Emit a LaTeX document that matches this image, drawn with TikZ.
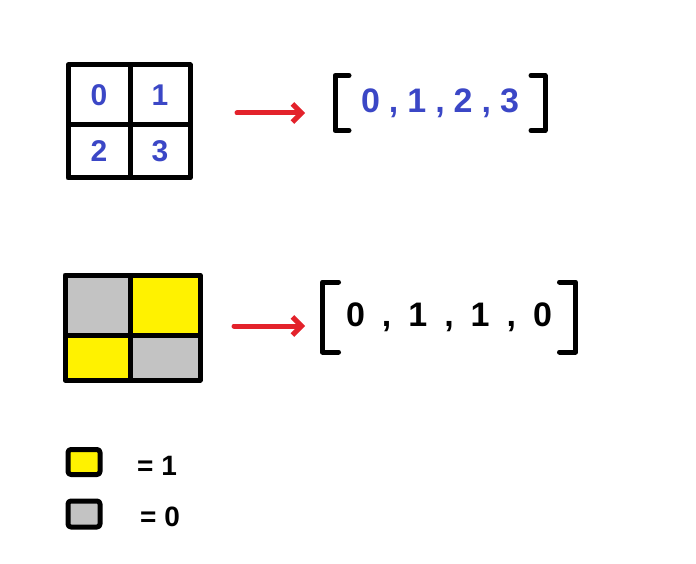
\documentclass[tikz,border=0pt]{standalone}
\usepackage{fontspec}
\setmainfont{Liberation Sans}
\usepackage{tikz}
\usetikzlibrary{arrows.meta}

\definecolor{numblue}{HTML}{3B47C6}
\definecolor{arrowred}{HTML}{E3222B}
\definecolor{oneyellow}{HTML}{FFF200}
\definecolor{zerogray}{HTML}{C3C3C3}

\newcommand{\gap}[1]{\hspace{#1pt}}

\begin{document}
\begin{tikzpicture}[x = 1pt, y = -1pt, line width = 5pt, line cap = round, line join = round,
                        cell/.style = {draw, inner sep = 0pt, font = \fontsize{30}{30}\selectfont\bfseries},
                        lst/.style = {inner sep = 0pt, font = \fontsize{34}{34}\selectfont\bfseries},
                        key/.style = {draw, rounded corners = 3pt, inner sep = 0pt, minimum width = 32pt},
                        toarr/.style = {draw = arrowred, -{Straight Barb[length = 9pt, width = 18pt]}}]
      \useasboundingbox (0, 0) rectangle (696, 564);

      % indices of the cells
      \node [cell, text = numblue, minimum width = 62pt, minimum height = 60pt] (c0) at (99, 95){0};
      \node [cell, text = numblue, minimum width = 60pt, minimum height = 60pt] (c1) at (160, 95){1};
      \node [cell, text = numblue, minimum width = 62pt, minimum height = 53pt] (c2) at (99, 151.5){2};
      \node [cell, text = numblue, minimum width = 60pt, minimum height = 53pt] (c3) at (160, 151.5){3};

      \node [lst, text = numblue, minimum width = 205pt, minimum height = 50pt] (lst1) at (440, 103){0\gap{9},\gap{9}1\gap{9},\gap{9}2\gap{9},\gap{9}3};
      \draw ([xshift = 14pt]lst1.north west) -| (lst1.south west) -- ++(14, 0);
      \draw ([xshift = -14pt]lst1.north east) -| (lst1.south east) -- ++(-14, 0);

      \coordinate (a1s) at (237, 113);
      \coordinate (a1e) at (305, 113);
      \draw [toarr] (a1s) -- (a1e);

      % values of the cells
      \node [cell, fill = zerogray, minimum width = 65pt, minimum height = 60pt] (v0) at (97.5, 305){};
      \node [cell, fill = oneyellow, minimum width = 70pt, minimum height = 60pt] (v1) at (165, 305){};
      \node [cell, fill = oneyellow, minimum width = 65pt, minimum height = 45pt] (v2) at (97.5, 357.5){};
      \node [cell, fill = zerogray, minimum width = 70pt, minimum height = 45pt] (v3) at (165, 357.5){};

      \node [lst, minimum width = 248pt, minimum height = 65pt] (lst2) at (449, 317){0\gap{17},\gap{17}1\gap{17},\gap{17}1\gap{17},\gap{17}0};
      \draw ([xshift = 16pt]lst2.north west) -| (lst2.south west) -- ++(16, 0);
      \draw ([xshift = -16pt]lst2.north east) -| (lst2.south east) -- ++(-16, 0);

      \coordinate (a2s) at (234, 326);
      \coordinate (a2e) at (305, 326);
      \draw [toarr] (a2s) -- (a2e);

      % legend
      \node [key, fill = oneyellow, minimum height = 25pt] (k1) at (84, 462){};
      \node [key, fill = zerogray, minimum height = 26pt] (k0) at (84, 514){};
      \node [lst, font = \fontsize{28}{28}\selectfont\bfseries] (t1) at (157, 466){= 1};
      \node [lst, font = \fontsize{28}{28}\selectfont\bfseries] (t0) at (160, 517){= 0};
      \end{tikzpicture}
\end{document}
